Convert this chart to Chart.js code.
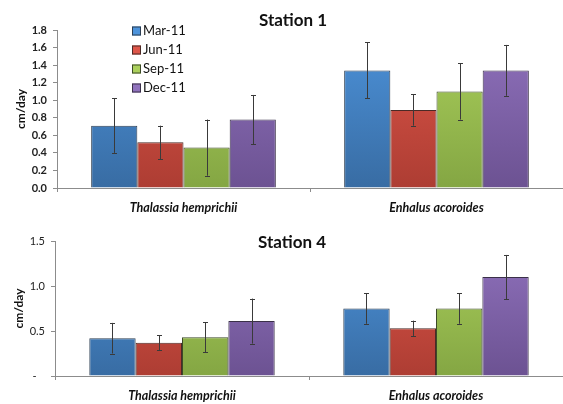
<!DOCTYPE html>
<html>
<head>
<meta charset="utf-8">
<script src="https://cdn.jsdelivr.net/npm/chart.js@4.4.1/dist/chart.umd.min.js"></script>
<style>
  html, body { margin: 0; padding: 0; background: #fff; }
  #wrap { position: relative; width: 563px; height: 404px; }
  .box { position: absolute; left: 0; width: 563px; }
  #top { top: 0; height: 218px; }
  #bottom { top: 218px; height: 186px; }
</style>
</head>
<body>
<div id="wrap">
  <div class="box" id="top"><canvas id="station1"></canvas></div>
  <div class="box" id="bottom"><canvas id="station4"></canvas></div>
</div>
<script>
// ===== data =====
const categories = ['Thalassia hemprichii', 'Enhalus acoroides'];
const seasons = ['Mar-11', 'Jun-11', 'Sep-11', 'Dec-11'];

// Station 1 (cm/day), one array per season: [Thalassia, Enhalus]
const st1Mar = [0.71, 1.34];
const st1Jun = [0.52, 0.89];
const st1Sep = [0.46, 1.10];
const st1Dec = [0.78, 1.34];
const st1MarErr = [0.31, 0.32];
const st1JunErr = [0.19, 0.18];
const st1SepErr = [0.32, 0.32];
const st1DecErr = [0.28, 0.29];

// Station 4
const st4Mar = [0.42, 0.75];
const st4Jun = [0.37, 0.53];
const st4Sep = [0.43, 0.75];
const st4Dec = [0.61, 1.10];
const st4MarErr = [0.17, 0.17];
const st4JunErr = [0.085, 0.085];
const st4SepErr = [0.165, 0.17];
const st4DecErr = [0.25, 0.245];

const st1Ticks = [0, 0.2, 0.4, 0.6, 0.8, 1.0, 1.2, 1.4, 1.6, 1.8];
const st4Ticks = [0, 0.5, 1.0, 1.5];

// light top -> dark bottom, plus border
const palette = [
    { top: '#4d93db', bottom: '#386ca3', border: '#2d3e52' },
    { top: '#de5649', bottom: '#ad3d33', border: '#4a2a26' },
    { top: '#abd05c', bottom: '#84a643', border: '#3c4a28' },
    { top: '#9072bd', bottom: '#6c5292', border: '#3a3048' }
];

const FONT = 'Lato, "Open Sans", "DejaVu Sans", sans-serif';

function gradientFill(i) {
    return (ctx) => {
        const { chart } = ctx;
        const area = chart.chartArea;
        if (!area) return palette[i].top;
        const g = chart.ctx.createLinearGradient(0, area.top, 0, area.bottom);
        g.addColorStop(0, palette[i].top);
        g.addColorStop(1, palette[i].bottom);
        return g;
    };
}

function makeDatasets(series, errors) {
    return series.map((vals, i) => ({
        label: seasons[i],
        data: vals,
        errors: errors[i],
        backgroundColor: gradientFill(i),
        borderColor: palette[i].border,
        borderWidth: 1,
        categoryPercentage: 0.73,
        barPercentage: 1.0
    }));
}

// ===== plugins =====
const errorBars = {
    id: 'errorBars',
    afterDatasetsDraw(chart) {
        const ctx = chart.ctx;
        const y = chart.scales.y;
        ctx.save();
        ctx.strokeStyle = '#3a3a3a';
        ctx.lineWidth = 1;
        chart.data.datasets.forEach((ds, di) => {
            const meta = chart.getDatasetMeta(di);
            meta.data.forEach((bar, k) => {
                const v = ds.data[k], e = ds.errors[k];
                const x = Math.round(bar.x) + 0.5;
                const y1 = y.getPixelForValue(v + e);
                const y2 = y.getPixelForValue(v - e);
                ctx.beginPath();
                ctx.moveTo(x, y1); ctx.lineTo(x, y2);
                ctx.moveTo(x - 2.5, Math.round(y1) + 0.5); ctx.lineTo(x + 2.5, Math.round(y1) + 0.5);
                ctx.moveTo(x - 2.5, Math.round(y2) + 0.5); ctx.lineTo(x + 2.5, Math.round(y2) + 0.5);
                ctx.stroke();
            });
        });
        ctx.restore();
    }
};

const stationTitle = {
    id: 'stationTitle',
    afterDraw(chart, args, opts) {
        if (!opts.text) return;
        const ctx = chart.ctx;
        const a = chart.chartArea;
        ctx.save();
        ctx.font = 'bold 17px ' + FONT;
        ctx.fillStyle = '#111';
        ctx.textAlign = 'center';
        ctx.textBaseline = 'middle';
        ctx.fillText(opts.text, (a.left + a.right) / 2 + opts.dx, a.top + opts.dy);
        ctx.restore();
    }
};

const boxLegend = {
    id: 'boxLegend',
    afterDraw(chart, args, opts) {
        if (!opts.show) return;
        const ctx = chart.ctx;
        ctx.save();
        ctx.font = '13px ' + FONT;
        ctx.textBaseline = 'middle';
        chart.data.datasets.forEach((ds, i) => {
            const cy = opts.y + i * opts.gap;
            ctx.fillStyle = palette[i].top;
            ctx.fillRect(opts.x, cy - 4.5, 9, 9);
            ctx.strokeStyle = palette[i].border;
            ctx.lineWidth = 1;
            ctx.strokeRect(opts.x + 0.5, cy - 4, 8, 8);
            ctx.fillStyle = '#111';
            ctx.fillText(ds.label, opts.x + 11, cy);
        });
        ctx.restore();
    }
};

function buildChart(canvasId, cfg) {
    return new Chart(document.getElementById(canvasId), {
        type: 'bar',
        data: { labels: categories, datasets: makeDatasets(cfg.series, cfg.errors) },
        plugins: [errorBars, stationTitle, boxLegend],
        options: {
            responsive: true,
            maintainAspectRatio: false,
            animation: false,
            layout: { padding: { top: cfg.padTop, left: 0, right: 0, bottom: 0 } },
            plugins: {
                legend: { display: false },
                tooltip: { enabled: false },
                stationTitle: { text: cfg.title, dx: -17, dy: cfg.titleDy },
                boxLegend: cfg.legend
            },
            scales: {
                x: {
                    afterFit: (s) => { s.height = cfg.xHeight; },
                    grid: { drawOnChartArea: false, tickLength: 4, color: '#8c8c8c', offset: true },
                    border: { color: '#8c8c8c' },
                    ticks: { color: '#111', padding: 8, font: { family: FONT, size: 12.5, weight: 'bold', style: 'italic' } }
                },
                y: {
                    min: 0,
                    max: cfg.ticks[cfg.ticks.length - 1],
                    afterFit: (s) => { s.width = cfg.yWidth; },
                    afterBuildTicks: (s) => { s.ticks = cfg.ticks.map(v => ({ value: v })); },
                    grid: { drawOnChartArea: false, tickLength: 4, color: '#8c8c8c' },
                    border: { color: '#8c8c8c' },
                    ticks: {
                        color: '#222',
                        padding: 6,
                        font: { family: FONT, size: 11, weight: cfg.tickWeight },
                        callback: cfg.tickFmt
                    },
                    title: {
                        display: true,
                        text: 'cm/day',
                        color: '#111',
                        padding: { top: cfg.yTitlePad, bottom: 0 },
                        font: { family: FONT, size: 12, weight: 'bold' }
                    }
                }
            }
        }
    });
}

buildChart('station1', {
    series: [st1Mar, st1Jun, st1Sep, st1Dec],
    errors: [st1MarErr, st1JunErr, st1SepErr, st1DecErr],
    ticks: st1Ticks,
    title: 'Station 1',
    titleDy: -9,
    padTop: 30,
    xHeight: 30,
    yWidth: 57,
    yTitlePad: 14,
    tickWeight: 'bold',
    tickFmt: (v) => Number(v).toFixed(1),
    legend: { show: true, x: 132, y: 31, gap: 19 }
});

buildChart('station4', {
    series: [st4Mar, st4Jun, st4Sep, st4Dec],
    errors: [st4MarErr, st4JunErr, st4SepErr, st4DecErr],
    ticks: st4Ticks,
    title: 'Station 4',
    titleDy: 2,
    padTop: 23,
    xHeight: 28,
    yWidth: 55,
    yTitlePad: 12,
    tickWeight: 'normal',
    tickFmt: (v) => (v === 0 ? '-   ' : Number(v).toFixed(1)),
    legend: { show: false }
});
</script>
</body>
</html>
